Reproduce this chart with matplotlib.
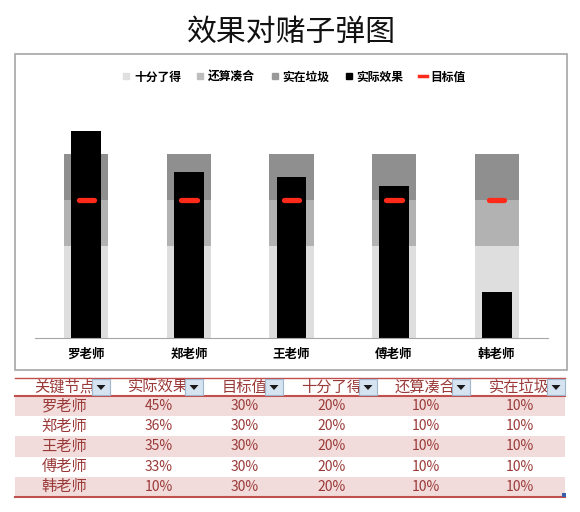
import matplotlib
matplotlib.use("Agg")
import matplotlib.pyplot as plt
from matplotlib.patches import Rectangle, Polygon
from matplotlib.lines import Line2D
import numpy as np

plt.rcParams['font.family'] = ['Noto Sans CJK SC', 'DejaVu Sans']

# ---- data ----
teachers = ["罗老师", "郑老师", "王老师", "傅老师", "韩老师"]
actual = [45, 36, 35, 33, 10]
target = [30, 30, 30, 30, 30]
band_good = [20, 20, 20, 20, 20]      # 十分了得
band_ok = [10, 10, 10, 10, 10]        # 还算凑合
band_bad = [10, 10, 10, 10, 10]       # 实在垃圾
table_headers = ["关键节点", "实际效果", "目标值", "十分了得", "还算凑合", "实在垃圾"]
title = "效果对赌子弹图"

W, H = 580, 512
fig = plt.figure(figsize=(W / 100, H / 100), dpi=100)

# overlay axes in pixel coordinates
ov = fig.add_axes([0, 0, 1, 1], zorder=0)
ov.set_xlim(0, W)
ov.set_ylim(H, 0)
ov.axis("off")

# title
ov.text(291, 32, title, ha="center", va="center", fontsize=21.5, color="#111111",
        fontweight="medium")
# chart frame
ov.add_patch(Rectangle((15, 54), 552, 316, fill=False, edgecolor="#a6a6a6", lw=1.2))

# ---- chart axes ----
def px_axes(x0, y0, x1, y1):
    return [x0 / W, 1 - y1 / H, (x1 - x0) / W, (y1 - y0) / H]

ax = fig.add_axes(px_axes(35, 108, 548, 338), zorder=2)
ax.patch.set_alpha(0)
x = np.arange(len(teachers))
c_good, c_ok, c_bad = "#dedede", "#b2b2b2", "#8f8f8f"
bw = 0.43
g = np.array(band_good)
o = np.array(band_ok)
b = np.array(band_bad)
ax.bar(x, g, width=bw, color=c_good, zorder=1)
ax.bar(x, o, width=bw, bottom=g, color=c_ok, zorder=1)
ax.bar(x, b, width=bw, bottom=g + o, color=c_bad, zorder=1)
ax.bar(x, actual, width=0.29, color="black", zorder=2)
ax.hlines(target, x - 0.075, x + 0.075, colors="#ff2a1a", lw=3.8, zorder=3, capstyle="round")
ax.set_xlim(-0.5, len(teachers) - 0.5)
ax.set_ylim(0, 50)
ax.set_yticks([])
ax.set_xticks(x)
ax.set_xticklabels(teachers, fontsize=9, fontweight="bold")
ax.tick_params(axis="x", length=0, pad=7)
for s in ["top", "left", "right"]:
    ax.spines[s].set_visible(False)
ax.spines["bottom"].set_color("#a6a6a6")

handles = [
    Line2D([], [], ls="none", marker="s", ms=5, color="#e0e0e0"),
    Line2D([], [], ls="none", marker="s", ms=5, color="#bdbdbd"),
    Line2D([], [], ls="none", marker="s", ms=5, color="#999999"),
    Line2D([], [], ls="none", marker="s", ms=5, color="black"),
    Line2D([], [], color="#ff2a1a", lw=2.5),
]
labels = ["十分了得", "还算凑合", "实在垃圾", "实际效果", "目标值"]
fig.legend(handles, labels, loc="center", bbox_to_anchor=(294 / W, 1 - 77 / H), ncol=5,
           frameon=False, prop={"size": 8.5, "weight": "bold"}, handlelength=0.7,
           handletextpad=0.3, columnspacing=1.3)

# ---- table ----
edges = [15, 110, 203, 283, 377, 470, 565]
top = 378
hdr_bot = 396
row_h = 20.2
txt_c = "#9a3a38"
line_c = "#c0504d"
for r in range(len(teachers)):
    y0 = hdr_bot + r * row_h
    if r % 2 == 0:
        ov.add_patch(Rectangle((edges[0], y0), edges[-1] - edges[0], row_h,
                               facecolor="#f2dcdb", edgecolor="none", zorder=1))
ov.plot([edges[0], edges[-1]], [top, top], color=line_c, lw=1, zorder=3)
ov.plot([edges[0], edges[-1]], [hdr_bot, hdr_bot], color=line_c, lw=1.5, zorder=3)
bot = hdr_bot + len(teachers) * row_h
ov.plot([edges[0], edges[-1]], [bot, bot], color=line_c, lw=1.5, zorder=3)

cols = [teachers,
        [f"{v}%" for v in actual],
        [f"{v}%" for v in target],
        [f"{v}%" for v in band_good],
        [f"{v}%" for v in band_ok],
        [f"{v}%" for v in band_bad]]
for ci in range(6):
    cx = (edges[ci] + edges[ci + 1]) / 2 + 2
    ov.text(cx, (top + hdr_bot) / 2, table_headers[ci], ha="center", va="center",
            fontsize=11, color=txt_c, fontweight="medium", zorder=2)
    # dropdown button
    bx1 = edges[ci + 1]
    bx0 = bx1 - 18
    ov.add_patch(Rectangle((bx0, top + 1), 18, hdr_bot - top - 2, facecolor="#d6e3f0",
                           edgecolor="#9fb6cf", lw=0.8, zorder=4))
    mx = (bx0 + bx1) / 2
    my = (top + hdr_bot) / 2
    ov.add_patch(Polygon([[mx - 4.5, my - 2], [mx + 4.5, my - 2], [mx, my + 3]],
                         closed=True, facecolor="#1a1a1a", edgecolor="none", zorder=5))
    fs = 11 if ci == 0 else 10
    for r, val in enumerate(cols[ci]):
        ov.text(cx, hdr_bot + (r + 0.5) * row_h, val, ha="center", va="center",
                fontsize=fs, color=txt_c, fontweight="medium", zorder=2)

# resize handle
ov.add_patch(Rectangle((562, bot - 4), 4, 4, facecolor="#3b5ea8", edgecolor="none", zorder=5))

fig.savefig("out.png", dpi=100)
